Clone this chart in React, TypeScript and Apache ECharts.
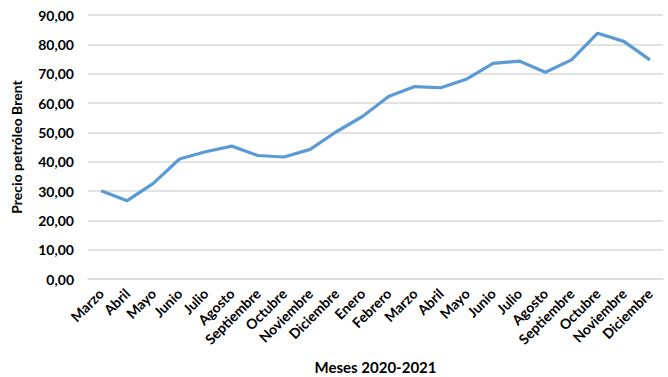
import React, { useEffect, useRef } from "react";
import * as echarts from "echarts";

const categories = [
  "Marzo", "Abril", "Mayo", "Junio", "Julio", "Agosto", "Septiembre", "Octubre",
  "Noviembre", "Diciembre", "Enero", "Febrero", "Marzo", "Abril", "Mayo", "Junio",
  "Julio", "Agosto", "Septiembre", "Octubre", "Noviembre", "Diciembre",
];
const brentPrices = [
  30.1, 26.7, 32.6, 40.9, 43.4, 45.3, 42.1, 41.6, 44.2, 50.2, 55.4,
  62.2, 65.6, 65.2, 68.2, 73.5, 74.3, 70.5, 74.7, 83.8, 81.0, 74.7,
];
const yTicks = { min: 0, max: 90, interval: 10 };
const yTitle = "Precio petróleo Brent";
const xTitle = "Meses 2020-2021";

const FONT = "Lato, 'Open Sans', sans-serif";

export default function App() {
  const ref = useRef<HTMLDivElement>(null);
  useEffect(() => {
    if (!ref.current) return;
    const chart = echarts.init(ref.current, undefined, { renderer: "svg" });
    chart.setOption({
      animation: false,
      backgroundColor: "#ffffff",
      grid: { left: 88, right: 5, top: 15, bottom: 98, containLabel: false, outerBoundsMode: "none" },
      graphic: [
        {
          type: "text",
          x: 16,
          y: 147,
          rotation: Math.PI / 2,
          style: {
            text: yTitle,
            fill: "#000",
            font: `bold 14px ${FONT}`,
            align: "center",
            verticalAlign: "middle",
          },
        },
      ],
      xAxis: {
        type: "category",
        data: categories,
        boundaryGap: true,
        axisLine: { show: true, lineStyle: { color: "#d9d9d9", width: 1.5 } },
        axisTick: { show: false },
        axisLabel: {
          interval: 0,
          rotate: 45,
          margin: 12,
          color: "#000",
          fontFamily: FONT,
          fontWeight: "bold",
          fontSize: 14,
        },
        name: xTitle,
        nameLocation: "middle",
        nameGap: 80,
        nameTextStyle: { color: "#000", fontFamily: FONT, fontWeight: "bold", fontSize: 15 },
      },
      yAxis: {
        type: "value",
        min: yTicks.min,
        max: yTicks.max,
        interval: yTicks.interval,
        axisLine: { show: false },
        axisTick: { show: false },
        splitLine: { lineStyle: { color: "#d9d9d9", width: 1.5 } },
        axisLabel: {
          margin: 14,
          color: "#000",
          fontFamily: FONT,
          fontWeight: "bold",
          fontSize: 14,
          formatter: (v: number) => v.toFixed(2).replace(".", ","),
        },
      },
      series: [
        {
          type: "line",
          data: brentPrices,
          symbol: "none",
          lineStyle: { color: "#5b9bd5", width: 3.2 },
        },
      ],
    });
    return () => chart.dispose();
  }, []);
  return <div ref={ref} style={{ width: 668, height: 377, position: "absolute", left: 0, top: 0 }} />;
}
